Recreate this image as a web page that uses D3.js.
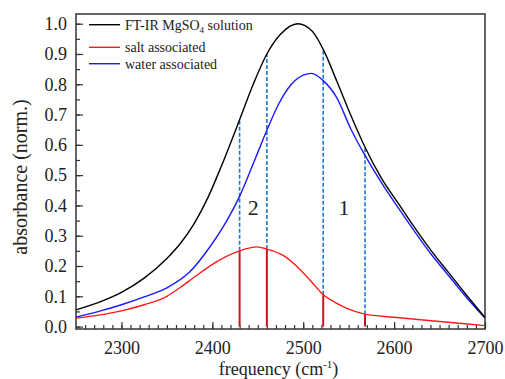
<!DOCTYPE html>
<html>
<head>
<meta charset="utf-8">
<script src="https://cdn.jsdelivr.net/npm/d3@7"></script>
<style>
	body { margin: 0; background: #fff; }
	.axis line { stroke: #333; stroke-width: 1.2; }
	.axis path { display: none; }
</style>
</head>
<body>
<div id="chart"></div>
<script>
const SERIF = "'Liberation Serif', 'Times New Roman', Times, serif";

// FT-IR spectrum (total)
let freqTotal = [2250, 2275, 2300, 2325, 2350, 2365, 2380, 2395, 2410, 2430, 2445, 2460, 2475, 2494, 2510, 2522, 2537, 2552, 2568, 2586, 2605, 2623, 2641, 2660, 2678, 2700];
let absTotal = [0.055, 0.080, 0.113, 0.160, 0.225, 0.275, 0.340, 0.425, 0.530, 0.683, 0.800, 0.900, 0.965, 1.000, 0.975, 0.915, 0.810, 0.700, 0.592, 0.490, 0.405, 0.325, 0.250, 0.178, 0.110, 0.030];

// water associated component
let freqWater = [2250, 2275, 2300, 2325, 2350, 2375, 2397, 2415, 2430, 2448, 2460, 2473, 2487, 2500, 2509, 2522, 2537, 2552, 2568, 2586, 2605, 2623, 2641, 2660, 2678, 2700];
let absWater = [0.031, 0.050, 0.072, 0.098, 0.128, 0.180, 0.262, 0.345, 0.430, 0.560, 0.648, 0.735, 0.800, 0.830, 0.836, 0.812, 0.755, 0.655, 0.565, 0.475, 0.390, 0.312, 0.238, 0.168, 0.102, 0.028];

// salt associated component
let freqSalt = [2250, 2275, 2300, 2325, 2350, 2365, 2380, 2404, 2430, 2449, 2460, 2478, 2497, 2510, 2522, 2535, 2548, 2568, 2600, 2650, 2700];
let absSalt = [0.028, 0.038, 0.052, 0.072, 0.100, 0.130, 0.163, 0.213, 0.250, 0.263, 0.256, 0.235, 0.187, 0.145, 0.105, 0.080, 0.060, 0.041, 0.031, 0.017, 0.003];

// integration boundaries for regions 2 and 1
let markerFreq = [2430, 2460, 2522, 2568];
let markerSalt = [0.250, 0.256, 0.105, 0.041];
let markerTotal = [0.683, 0.900, 0.915, 0.592];

let regionLabels = [{ text: "2", freq: 2445 }, { text: "1", freq: 2545 }];

let xTicks = [2300, 2400, 2500, 2600, 2700];
let yTicks = [0.0, 0.1, 0.2, 0.3, 0.4, 0.5, 0.6, 0.7, 0.8, 0.9, 1.0];

let legendItems = [
	{ name: "FT-IR MgSO", sub: "4", after: " solution", color: "#000" },
	{ name: "salt associated", color: "#ff1a1a" },
	{ name: "water associated", color: "#1a1aff" }
];

let margin = { top: 14, right: 20, bottom: 50, left: 76 };
let width = 505 - margin.left - margin.right,
	height = 379 - margin.top - margin.bottom;

let svg = d3.select("#chart").append("svg")
	.attr("width", 505)
	.attr("height", 379)
	.style("display", "block")
	.append("g")
	.attr("transform", "translate(" + margin.left + "," + margin.top + ")")
	.attr("font-family", SERIF);

let x = d3.scaleLinear().domain([2250, 2700]).range([0, width]);
let y = d3.scaleLinear().domain([-0.008, 1.032]).range([height, 0]);

// small helper so the axis labels keep the serif face
function styleAxis(g) {
	g.attr("class", "axis")
		.attr("font-family", SERIF)
		.attr("font-size", 18);
	g.selectAll("text").attr("fill", "#222");
}

// minor ticks first, then major ticks with labels
svg.append("g")
	.attr("transform", "translate(0," + height + ")")
	.call(d3.axisBottom(x).tickValues(d3.range(2260, 2700, 10)).tickSize(-4).tickFormat(""))
	.call(styleAxis);
svg.append("g")
	.attr("transform", "translate(0," + height + ")")
	.call(d3.axisBottom(x).tickValues(xTicks).tickSize(-7).tickPadding(12).tickFormat(d3.format("d")))
	.call(styleAxis);

svg.append("g")
	.call(d3.axisLeft(y).tickValues(d3.range(0, 1.01, 0.05)).tickSize(-4).tickFormat(""))
	.call(styleAxis);
svg.append("g")
	.call(d3.axisLeft(y).tickValues(yTicks).tickSize(-7).tickPadding(9).tickFormat(d3.format(".1f")))
	.call(styleAxis);

// frame
svg.append("rect")
	.attr("width", width)
	.attr("height", height)
	.attr("fill", "none")
	.attr("stroke", "#333")
	.attr("stroke-width", 1.5);

let line = d3.line()
	.x(d => x(d[0]))
	.y(d => y(d[1]))
	.curve(d3.curveMonotoneX);

// vertical markers: solid dark red under the salt curve, dashed blue up to the total
svg.selectAll(".marker-salt")
	.data(markerFreq)
	.enter().append("line")
	.attr("class", "marker-salt")
	.attr("x1", d => x(d)).attr("x2", d => x(d))
	.attr("y1", y(0)).attr("y2", (d, i) => y(markerSalt[i]))
	.attr("stroke", "#c8141e")
	.attr("stroke-width", 2);

svg.selectAll(".marker-total")
	.data(markerFreq)
	.enter().append("line")
	.attr("class", "marker-total")
	.attr("x1", d => x(d)).attr("x2", d => x(d))
	.attr("y1", (d, i) => y(markerSalt[i])).attr("y2", (d, i) => y(markerTotal[i]))
	.attr("stroke", "#1e78d2")
	.attr("stroke-width", 1.6)
	.attr("stroke-dasharray", "4,2");

let series = [
	{ f: freqSalt, v: absSalt, color: "#ff1a1a" },
	{ f: freqWater, v: absWater, color: "#1a1aff" },
	{ f: freqTotal, v: absTotal, color: "#000" }
];

svg.selectAll(".curve")
	.data(series)
	.enter().append("path")
	.attr("class", "curve")
	.attr("d", s => line(s.f.map((f, i) => [f, s.v[i]])))
	.attr("fill", "none")
	.attr("stroke", s => s.color)
	.attr("stroke-width", 1.4);

svg.selectAll(".region-label")
	.data(regionLabels)
	.enter().append("text")
	.attr("class", "region-label")
	.attr("x", d => x(d.freq))
	.attr("y", 201)
	.attr("text-anchor", "middle")
	.attr("font-size", 22)
	.attr("fill", "#222")
	.text(d => d.text);

// legend
let legend = svg.selectAll(".legend")
	.data(legendItems)
	.enter().append("g")
	.attr("class", "legend")
	.attr("transform", (d, i) => "translate(13," + [10.7, 33.3, 49.7][i] + ")");

legend.append("line")
	.attr("x1", 0).attr("x2", 31)
	.attr("stroke", d => d.color)
	.attr("stroke-width", 1.4);

let legendText = legend.append("text")
	.attr("x", 36)
	.attr("y", 4.8)
	.attr("font-size", 14)
	.attr("fill", "#222");
legendText.append("tspan").text(d => d.name);
legendText.filter(d => d.sub).append("tspan")
	.attr("dy", 3).attr("font-size", 9).text(d => d.sub);
legendText.filter(d => d.after).append("tspan")
	.attr("dy", -3).text(d => d.after);

// axis titles
let xTitle = svg.append("text")
	.attr("x", width / 2 - 2)
	.attr("y", height + 46)
	.attr("text-anchor", "middle")
	.attr("font-size", 18)
	.attr("fill", "#222");
xTitle.append("tspan").text("frequency (cm");
xTitle.append("tspan").attr("dy", -7).attr("font-size", 11).text("-1");
xTitle.append("tspan").attr("dy", 7).text(")");

svg.append("text")
	.attr("transform", "translate(" + (27 - margin.left) + "," + (177 - margin.top) + ") rotate(-90)")
	.attr("text-anchor", "middle")
	.attr("font-size", 20)
	.attr("fill", "#222")
	.text("absorbance (norm.)");
</script>
</body>
</html>
